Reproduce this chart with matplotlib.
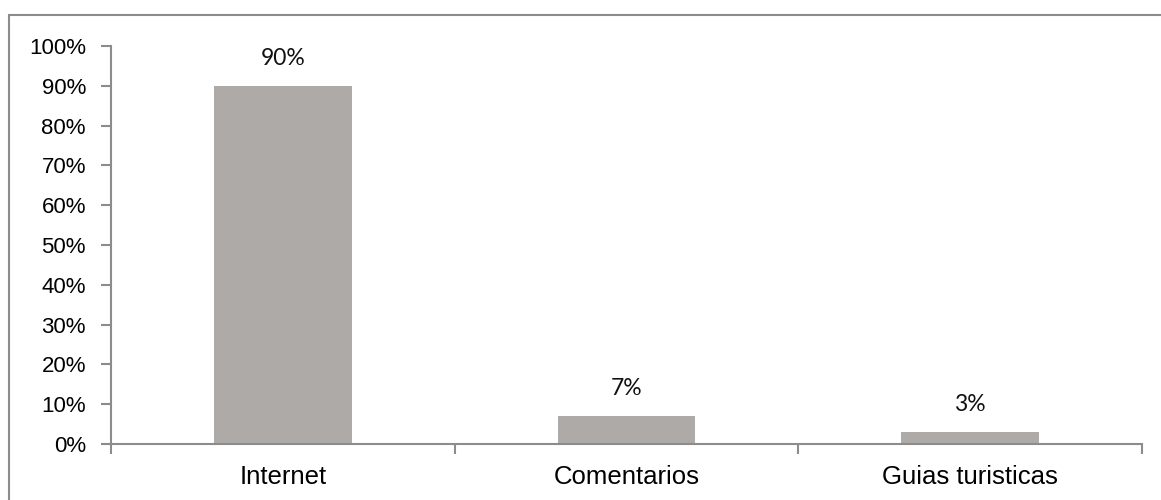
import matplotlib.pyplot as plt
from matplotlib.patches import Rectangle

# datos
categorias = ['Internet', 'Comentarios', 'Guias turisticas']
valores = [0.90, 0.07, 0.03]
etiquetas = ['90%', '7%', '3%']
yticks = [i / 10 for i in range(11)]
ytick_labels = [f'{i * 10}%' for i in range(11)]

W, H = 1161, 500
fig = plt.figure(figsize=(W / 100, H / 100), dpi=100)
fig.patch.set_facecolor('white')

# borde exterior (solo visible arriba e izquierda)
fig.patches.append(Rectangle((9 / W, -0.2), 1.2, 1.2 - 15 / H,
                             transform=fig.transFigure, fill=False,
                             edgecolor='#8c8c8c', linewidth=1.5))

ax = fig.add_axes([111 / W, 56 / H, (1142 - 111) / W, (444 - 46) / H])
x = range(len(categorias))
ax.bar(x, valores, width=0.40, color='#aeaaa8', zorder=2)

for xi, v, lab in zip(x, valores, etiquetas):
    ax.text(xi, v + 0.043, lab, ha='center', va='bottom', fontsize=16.5,
            family=['Lato', 'DejaVu Sans'], color='#111111')

ax.set_xlim(-0.5, len(categorias) - 0.5)
ax.set_ylim(0, 1.0)
ax.set_yticks(yticks)
ax.set_yticklabels(ytick_labels, fontsize=16, family='Liberation Sans')
ax.set_xticks([-0.5, 0.5, 1.5, 2.5])
ax.set_xticklabels([])
ax.set_xticks(list(x), minor=True)
ax.set_xticklabels(categorias, minor=True, fontsize=18.5, family='Liberation Sans')
ax.tick_params(axis='x', which='minor', length=0, pad=15)
ax.tick_params(axis='x', which='major', length=7, width=1.5, color='#8c8c8c', direction='out')
ax.tick_params(axis='y', length=7, width=1.5, color='#8c8c8c', direction='out', pad=11)

for s in ['top', 'right']:
    ax.spines[s].set_visible(False)
for s in ['left', 'bottom']:
    ax.spines[s].set_color('#8c8c8c')
    ax.spines[s].set_linewidth(1.5)

fig.savefig('out.png', dpi=100, facecolor='white')
